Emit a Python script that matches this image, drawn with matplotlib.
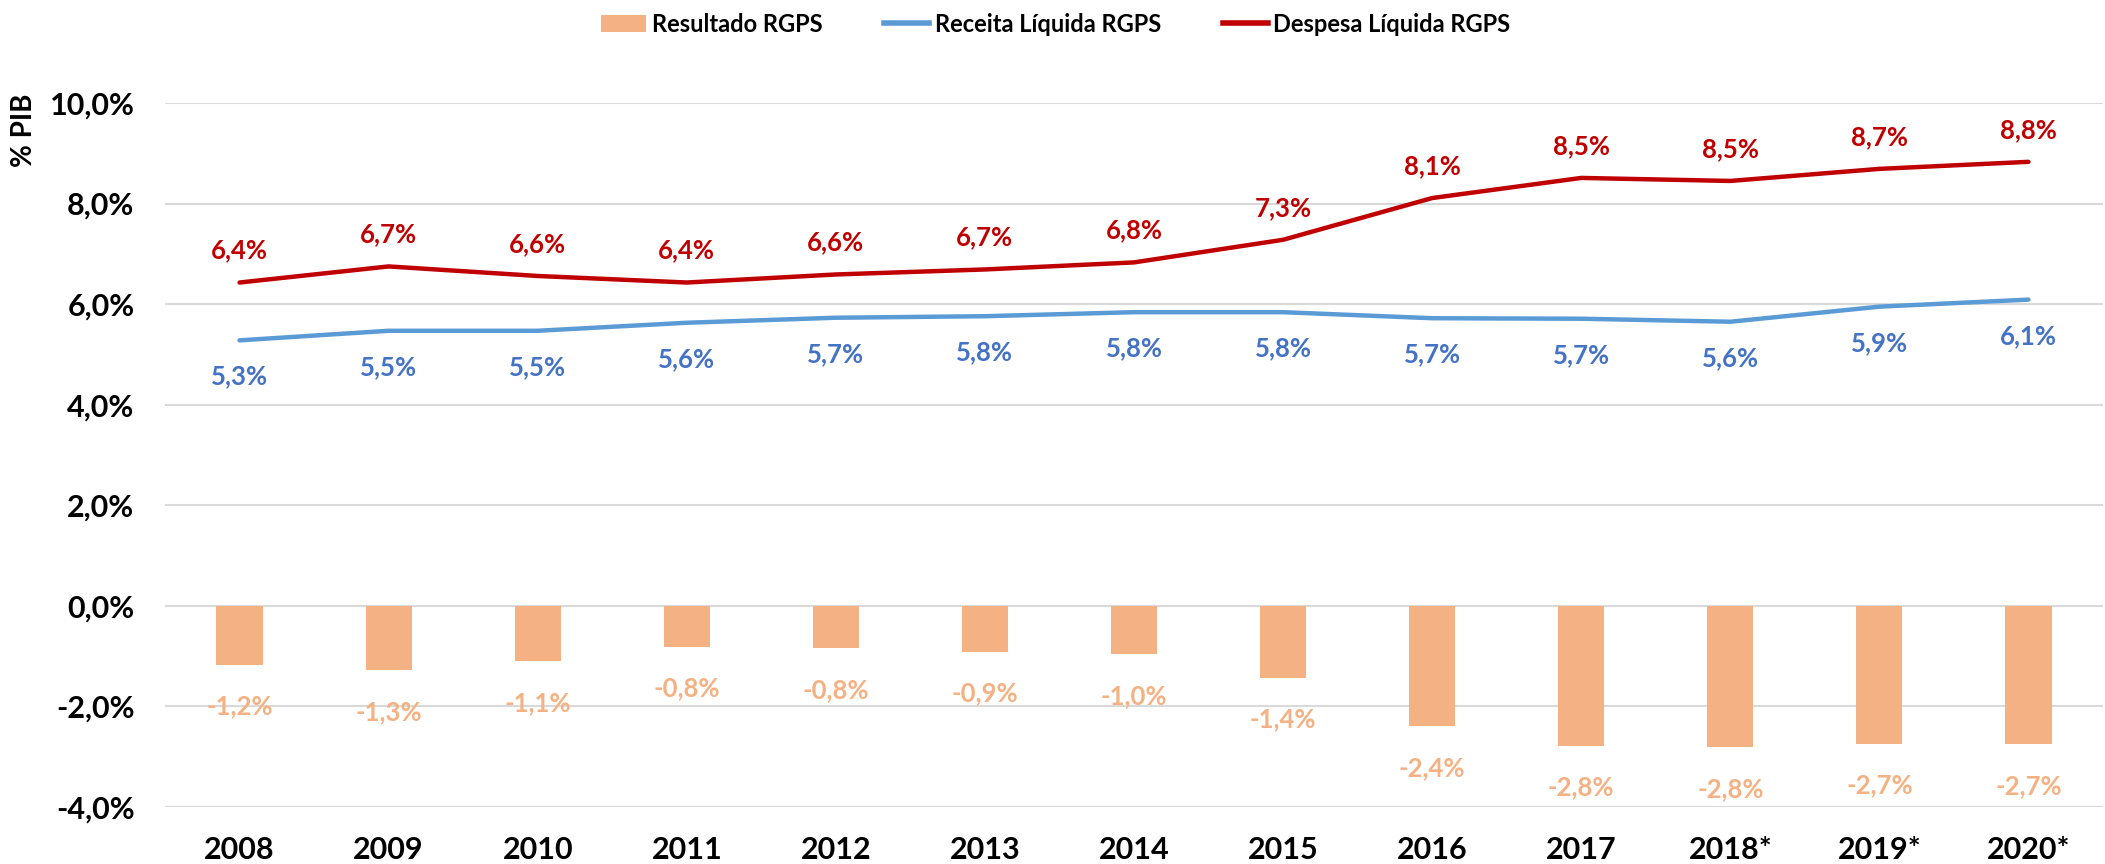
"""
RGPS: receita, despesa e resultado (% PIB), 2008-2020
"""
import numpy as np
import matplotlib.pyplot as plt
import matplotlib.ticker as mticker
from matplotlib.patches import Patch
from matplotlib.lines import Line2D

plt.rcParams['font.family'] = ['Lato', 'DejaVu Sans']
plt.rcParams['font.weight'] = 'bold'

# ─── dados ─────────────────────────────────────────
anos = ['2008', '2009', '2010', '2011', '2012', '2013', '2014',
        '2015', '2016', '2017', '2018*', '2019*', '2020*']
resultado = [-1.17, -1.28, -1.10, -0.81, -0.84, -0.91, -0.96,
             -1.43, -2.39, -2.78, -2.81, -2.74, -2.75]
receita = [5.28, 5.47, 5.47, 5.63, 5.73, 5.76, 5.84,
           5.84, 5.72, 5.71, 5.65, 5.95, 6.09]
despesa = [6.43, 6.75, 6.56, 6.43, 6.59, 6.69, 6.83,
           7.28, 8.11, 8.51, 8.45, 8.69, 8.83]
rot_resultado = ['-1,2%', '-1,3%', '-1,1%', '-0,8%', '-0,8%', '-0,9%', '-1,0%',
                 '-1,4%', '-2,4%', '-2,8%', '-2,8%', '-2,7%', '-2,7%']
rot_receita = ['5,3%', '5,5%', '5,5%', '5,6%', '5,7%', '5,8%', '5,8%',
               '5,8%', '5,7%', '5,7%', '5,6%', '5,9%', '6,1%']
rot_despesa = ['6,4%', '6,7%', '6,6%', '6,4%', '6,6%', '6,7%', '6,8%',
               '7,3%', '8,1%', '8,5%', '8,5%', '8,7%', '8,8%']

# ─── cores ─────────────────────────────────────────
COR_BARRA = '#F4B183'
COR_RECEITA = '#5B9BD5'
COR_ROT_RECEITA = '#4472C4'
COR_DESPESA = '#C00000'

W, H = 2105, 864
fig = plt.figure(figsize=(W / 100, H / 100), dpi=100)
fig.patch.set_facecolor('white')
ax = fig.add_axes([165 / W, 1 - 807 / H, (2103 - 165) / W, (807 - 103) / H])

x = np.arange(len(anos))

# 1. barras do resultado
ax.bar(x, resultado, width=0.31, color=COR_BARRA, zorder=3)
for xi, v, t in zip(x, resultado, rot_resultado):
    ax.annotate(t, (xi, v), xytext=(0, -30), textcoords='offset points',
                ha='center', va='center', fontsize=18.5, color=COR_BARRA,
                fontweight='bold', annotation_clip=False)

# 2. linhas
ax.plot(x, receita, color=COR_RECEITA, lw=3.2, zorder=4, solid_capstyle='round')
ax.plot(x, despesa, color=COR_DESPESA, lw=3.2, zorder=4, solid_capstyle='round')
for xi, v, t in zip(x, receita, rot_receita):
    ax.annotate(t, (xi, v), xytext=(0, -26), textcoords='offset points',
                ha='center', va='center', fontsize=18.5, color=COR_ROT_RECEITA,
                fontweight='bold', annotation_clip=False)
for xi, v, t in zip(x, despesa, rot_despesa):
    ax.annotate(t, (xi, v), xytext=(0, 23), textcoords='offset points',
                ha='center', va='center', fontsize=18.5, color=COR_DESPESA,
                fontweight='bold', annotation_clip=False)

# 3. eixos
ax.set_xlim(-0.5, len(anos) - 0.5)
ax.set_ylim(-4, 10)
ax.set_xticks(x)
ax.set_xticklabels(anos)
ax.yaxis.set_major_locator(mticker.MultipleLocator(2))
ax.yaxis.set_major_formatter(mticker.FuncFormatter(
    lambda v, _: f'{v:.1f}%'.replace('.', ',')))
ax.tick_params(axis='both', length=0, labelsize=22, colors='black')
ax.tick_params(axis='y', pad=22)
ax.tick_params(axis='x', pad=21)
for s in ax.spines.values():
    s.set_visible(False)
ax.grid(axis='y', color='#D9D9D9', lw=1.5, zorder=0)
ax.set_axisbelow(True)

fig.text(24 / W, 1 - 130 / H, '% PIB', rotation=90, ha='center', va='center',
         fontsize=20, fontweight='bold')

# 4. legenda
handles = [
    Patch(facecolor=COR_BARRA, label='Resultado RGPS'),
    Line2D([0], [0], color=COR_RECEITA, lw=4, label='Receita Líquida RGPS'),
    Line2D([0], [0], color=COR_DESPESA, lw=4, label='Despesa Líquida RGPS'),
]
fig.legend(handles=handles, loc='center', bbox_to_anchor=(1056 / W, 1 - 24 / H),
           ncol=3, frameon=False, fontsize=17, handlelength=1.9,
           handletextpad=0.25, columnspacing=2.6)

fig.savefig('out.png', dpi=100, facecolor='white')
